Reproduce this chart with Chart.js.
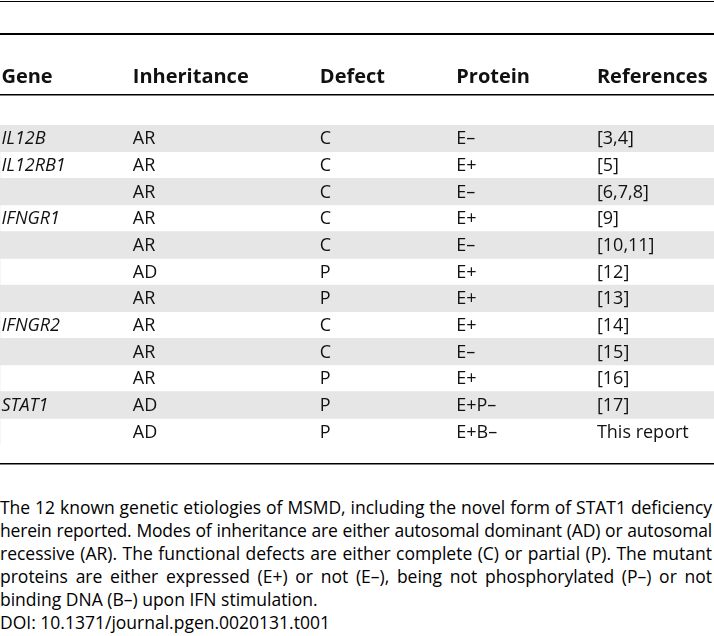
<!DOCTYPE html>
<html lang="en">
<head>
    <meta charset="UTF-8">
    <title>MSMD etiologies</title>
    <script src="https://cdn.jsdelivr.net/npm/chart.js@4/dist/chart.umd.min.js"></script>
    <style>
      html, body { margin: 0; background: #fff; overflow: hidden; }
      #wrap { position: relative; width: 714px; height: 472px; }
      #caption {
        width: 712px;
        margin-top: 24px;
        font-family: "Open Sans", sans-serif;
        font-size: 17.5px;
        line-height: 23px;
        color: #000;
      }
      #caption .j { text-align: justify; text-align-last: justify; white-space: nowrap; }
      #caption .l { text-align: left; white-space: nowrap; }
    </style>
</head>
<body>
    <div id="wrap">
        <canvas id="table" width="714" height="472"></canvas>
    </div>
    <div id="caption">
        <div class="j">The 12 known genetic etiologies of MSMD, including the novel form of STAT1 deficiency</div>
        <div class="j">herein reported. Modes of inheritance are either autosomal dominant (AD) or autosomal</div>
        <div class="j">recessive (AR). The functional defects are either complete (C) or partial (P). The mutant</div>
        <div class="j">proteins are either expressed (E+) or not (E–), being not phosphorylated (P–) or not</div>
        <div class="l">binding DNA (B–) upon IFN stimulation.</div>
        <div class="l">DOI: 10.1371/journal.pgen.0020131.t001</div>
    </div>

    <script>
        // table content
        const headers = ['Gene', 'Inheritance', 'Defect', 'Protein', 'References'];
        const genes = ['IL12B', 'IL12RB1', '', 'IFNGR1', '', '', '', 'IFNGR2', '', '', 'STAT1', ''];
        const inheritance = ['AR', 'AR', 'AR', 'AR', 'AR', 'AD', 'AR', 'AR', 'AR', 'AR', 'AD', 'AD'];
        const defect = ['C', 'C', 'C', 'C', 'C', 'P', 'P', 'C', 'C', 'P', 'P', 'P'];
        const protein = ['E–', 'E+', 'E–', 'E+', 'E–', 'E+', 'E+', 'E+', 'E–', 'E+', 'E+P–', 'E+B–'];
        const references = ['[3,4]', '[5]', '[6,7,8]', '[9]', '[10,11]', '[12]', '[13]', '[14]', '[15]', '[16]', '[17]', 'This report'];

        const columns = [genes, inheritance, defect, protein, references];
        // where each column starts, as a fraction of the table width
        const colStart = [0.002, 0.186, 0.448, 0.639, 0.836];
        // shaded rows get a full-width band
        const stripes = genes.map((g, i) => i % 2 === 0 ? 1 : 0);

        const rowLabels = genes.map((g, i) => 'row' + i);

        const tableText = {
            id: 'tableText',
            afterDatasetsDraw(chart) {
                const ctx = chart.ctx;
                const x = chart.scales.x;
                const y = chart.scales.y;
                const area = chart.chartArea;
                ctx.save();
                ctx.fillStyle = '#111';
                ctx.textBaseline = 'middle';

                // header
                ctx.font = 'bold 20px "Open Sans"';
                headers.forEach((h, c) => {
                    ctx.fillText(h, x.getPixelForValue(colStart[c]), area.top - 48);
                });

                // body
                columns.forEach((col, c) => {
                    ctx.font = (c === 0 ? 'italic ' : '') + '18px "Open Sans"';
                    col.forEach((txt, r) => {
                        ctx.fillText(txt, x.getPixelForValue(colStart[c]), y.getPixelForValue(r) + 1);
                    });
                });

                // rules
                ctx.fillStyle = '#000';
                ctx.fillRect(area.left, area.top - 124, area.right - area.left, 1);
                ctx.fillRect(area.left, area.top - 92, area.right - area.left, 2);
                ctx.fillRect(area.left, area.top - 31, area.right - area.left, 1.5);
                ctx.fillRect(area.left, area.bottom + 18, area.right - area.left, 1.5);
                ctx.restore();
            }
        };

        new Chart(document.getElementById('table'), {
            type: 'bar',
            data: {
                labels: rowLabels,
                datasets: [{
                    data: stripes,
                    backgroundColor: '#e6e6e6',
                    barPercentage: 1,
                    categoryPercentage: 1,
                    borderWidth: 0
                }]
            },
            options: {
                indexAxis: 'y',
                responsive: false,
                animation: false,
                devicePixelRatio: 1,
                layout: { padding: { top: 125, bottom: 27, left: 0, right: 0 } },
                plugins: { legend: { display: false }, tooltip: { enabled: false } },
                scales: {
                    x: { display: false, min: 0, max: 1 },
                    y: { display: false }
                }
            },
            plugins: [tableText]
        });

        // tighten caption lines that are too long to fit at their natural width
        document.querySelectorAll('#caption .j').forEach(line => {
            const probe = document.createElement('span');
            probe.textContent = line.textContent;
            probe.style.whiteSpace = 'nowrap';
            probe.style.position = 'absolute';
            probe.style.visibility = 'hidden';
            line.appendChild(probe);
            const w = probe.offsetWidth;
            line.removeChild(probe);
            const room = line.clientWidth - 6;
            if (w > room) {
                line.style.letterSpacing = ((room - w) / line.textContent.length).toFixed(3) + 'px';
            }
        });
    </script>
</body>
</html>
